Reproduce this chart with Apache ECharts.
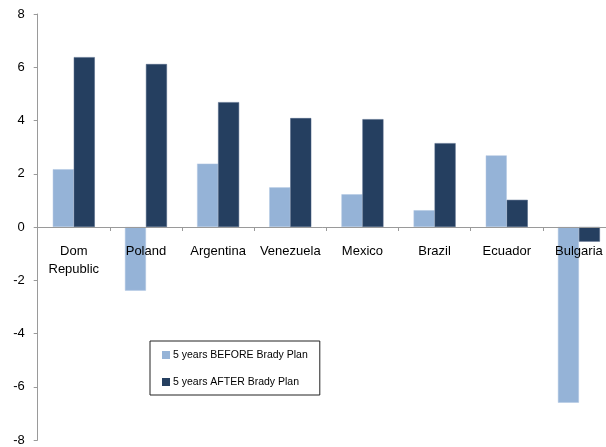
<!DOCTYPE html>
<html>
<head>
<meta charset="utf-8">
<script src="https://cdn.jsdelivr.net/npm/echarts@6/dist/echarts.min.js"></script>
<style>html,body{margin:0;padding:0;background:#fff;}#c{width:606px;height:447px;}</style>
</head>
<body>
<div id="c"></div>
<script>
var categories = ['Dom\nRepublic', 'Poland', 'Argentina', 'Venezuela', 'Mexico', 'Brazil', 'Ecuador', 'Bulgaria'];
var before = [2.17, -2.39, 2.38, 1.49, 1.23, 0.63, 2.69, -6.6];
var after = [6.38, 6.12, 4.69, 4.09, 4.05, 3.15, 1.02, -0.55];
var seriesNames = ['5 years BEFORE Brady Plan', '5 years AFTER Brady Plan'];

var font = 'Liberation Sans';
var gridTop = 14, gridBottom = 7, chartH = 447;
var plotH = chartH - gridTop - gridBottom;
var chart = echarts.init(document.getElementById('c'), null, {renderer: 'canvas'});
chart.setOption({
  animation: false,
  backgroundColor: '#fff',
  grid: {left: 37.7, right: -9, top: gridTop, bottom: gridBottom, containLabel: false, outerBoundsMode: 'none'},
  legend: {
    orient: 'vertical',
    left: 150, top: 341,
    borderColor: '#222', borderWidth: 1,
    padding: [7, 12, 6, 12],
    itemWidth: 8, itemHeight: 8, itemGap: 13,
    icon: 'rect',
    itemStyle: {borderWidth: 0},
    textStyle: {fontFamily: font, fontSize: 10.5, color: '#000', lineHeight: 14, padding: [0, 0, 0, -2]},
    data: seriesNames
  },
  xAxis: {
    type: 'category',
    data: categories,
    position: 'bottom',
    offset: -plotH / 2,
    z: 10,
    axisLine: {onZero: false, lineStyle: {color: '#9a9a9a', width: 1}},
    axisTick: {show: true, length: 4, lineStyle: {color: '#9a9a9a'}},
    axisLabel: {fontFamily: font, fontSize: 13, color: '#000', margin: 15, lineHeight: 18, interval: 0},
    splitLine: {show: false}
  },
  yAxis: {
    type: 'value',
    min: -8, max: 8, interval: 2,
    axisLine: {show: true, lineStyle: {color: '#9a9a9a', width: 1}},
    axisTick: {show: true, length: 4, lineStyle: {color: '#9a9a9a'}},
    axisLabel: {fontFamily: font, fontSize: 13, color: '#000', margin: 13},
    splitLine: {show: false}
  },
  series: [
    {name: seriesNames[0], type: 'bar', data: before, barWidth: 21, barGap: '0%',
     itemStyle: {color: '#95B3D7', borderColor: '#B0C6E2', borderWidth: 0.5}},
    {name: seriesNames[1], type: 'bar', data: after, barWidth: 21, barGap: '0%',
     itemStyle: {color: '#253F60', borderColor: '#4A6080', borderWidth: 0.5}}
  ]
});
</script>
</body>
</html>
